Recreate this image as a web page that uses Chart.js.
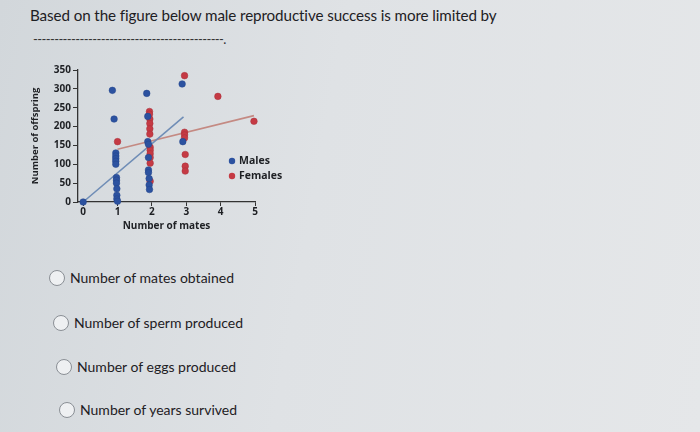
<!DOCTYPE html>
<html>
<head>
<meta charset="utf-8">
<script src="https://cdn.jsdelivr.net/npm/chart.js@4.4.0/dist/chart.umd.min.js"></script>
<style>
  body { margin: 0; }
  #page {
    position: relative; width: 700px; height: 432px; overflow: hidden;
    background: linear-gradient(100deg, #d2d7db 0%, #dfe2e5 45%, #e5e7e9 100%);
    font-family: Lato, sans-serif; color: #1e2024;
  }
  .q { position: absolute; left: 30px; top: 6px; font-size: 15.2px; letter-spacing: -0.1px; }
  .blank { position: absolute; left: 33px; top: 31px; font-size: 13px; letter-spacing: -0.6px; color: #333; }
  #box { position: absolute; left: 30px; top: 55px; width: 260px; height: 190px; }
  .opt { position: absolute; font-size: 14px; }
  .opt span.r {
    display: inline-block; width: 14px; height: 14px; border-radius: 50%;
    border: 1px solid #8a8f95; background: #eef0f2; vertical-align: -3px; margin-right: 5px;
  }
</style>
</head>
<body>
<div id="page">
  <div class="q">Based on the figure below male reproductive success is more limited by</div>
  <div class="blank">---------------------------------------------.</div>
  <div id="box"><canvas id="chart1"></canvas></div>
  <div class="opt" style="left:49px; top:269px"><span class="r"></span>Number of mates obtained</div>
  <div class="opt" style="left:53px; top:314px"><span class="r"></span>Number of sperm produced</div>
  <div class="opt" style="left:56px; top:358px"><span class="r"></span>Number of eggs produced</div>
  <div class="opt" style="left:59px; top:401px"><span class="r"></span>Number of years survived</div>
</div>
<script>
const xTicks = [0, 1, 2, 3, 4, 5]
const yTicks = [0, 50, 100, 150, 200, 250, 300, 350]

const maleX = [0, 0.85, 0.9, 0.95, 0.95, 0.95, 0.95, 0.95, 0.97, 0.97, 0.97, 0.98, 0.98, 0.98, 1.0,
               1.85, 1.88, 1.88, 1.9, 1.9, 1.9, 1.9, 1.92, 1.92, 1.93, 2.88, 2.9]
const maleY = [0, 296, 220, 130, 122, 115, 108, 100, 65, 58, 50, 35, 18, 8, 2,
               288, 227, 160, 153, 118, 85, 78, 62, 45, 33, 313, 160]

const femaleX = [1.0, 1.93, 1.93, 1.94, 1.94, 1.94, 1.94, 1.95, 1.95, 1.95, 1.95, 1.95, 1.95,
                 2.95, 2.95, 2.95, 2.95, 2.97, 2.97, 2.97, 3.92, 4.97]
const femaleY = [160, 240, 233, 220, 208, 194, 180, 145, 137, 128, 118, 103, 55,
                 335, 185, 178, 170, 126, 95, 82, 280, 214]

const maleFitX = [0, 2.92]
const maleFitY = [0, 226]
const femaleFitX = [1, 4.97]
const femaleFitY = [140, 229]

const blue = '#2c52a0'
const red = '#c53a44'

const toPoints = (xs, ys) => xs.map((x, i) => ({ x, y: ys[i] }))

const tickFont = { family: 'Open Sans', size: 10, weight: 'bold' }

const legendPlugin = {
    id: 'innerLegend',
    afterDraw(chart) {
        const ctx = chart.ctx
        const area = chart.chartArea
        const items = chart.data.datasets.filter(d => d.type === 'scatter')
        ctx.save()
        ctx.font = 'bold 10.5px "Open Sans"'
        ctx.textBaseline = 'middle'
        items.forEach((d, i) => {
            const x = area.right - 23
            const y = area.top + 91 + i * 15
            ctx.fillStyle = d.backgroundColor
            ctx.beginPath()
            ctx.arc(x, y, 3.2, 0, Math.PI * 2)
            ctx.fill()
            ctx.fillStyle = '#1e2024'
            ctx.fillText(d.label, x + 7, y)
        })
        ctx.restore()
    }
}

const data = {
    datasets: [
        {
            type: 'line', label: 'male fit', data: toPoints(maleFitX, maleFitY),
            borderColor: '#6f8db6', borderWidth: 1.6, pointRadius: 0, order: 2
        },
        {
            type: 'line', label: 'female fit', data: toPoints(femaleFitX, femaleFitY),
            borderColor: '#c48a83', borderWidth: 1.6, pointRadius: 0, order: 2
        },
        {
            type: 'scatter', label: 'Males', data: toPoints(maleX, maleY),
            backgroundColor: blue, borderColor: '#23448a', borderWidth: 0.5, pointRadius: 3.3, order: 1
        },
        {
            type: 'scatter', label: 'Females', data: toPoints(femaleX, femaleY),
            backgroundColor: red, borderColor: '#a8303a', borderWidth: 0.5, pointRadius: 3.3, order: 1
        }
    ]
}

const options = {
    responsive: true,
    maintainAspectRatio: false,
    animation: false,
    clip: false,
    layout: { padding: { top: 15, right: 35, left: 0, bottom: 9 } },
    plugins: { legend: { display: false }, tooltip: { enabled: false } },
    scales: {
        x: {
            type: 'linear', min: -0.15, max: 5,
            afterBuildTicks: axis => { axis.ticks = xTicks.map(v => ({ value: v })) },
            afterFit: axis => { axis.height = 34 },
            grid: { drawOnChartArea: false, tickLength: 4, color: '#333', lineWidth: 1 },
            border: { color: '#333', width: 1.3 },
            ticks: { color: '#1e2024', font: tickFont, padding: 0, maxRotation: 0 },
            title: { display: true, text: 'Number of mates', color: '#1e2024', font: { family: 'Open Sans', size: 10, weight: 'bold' }, padding: { top: 0 } }
        },
        y: {
            min: 0, max: 350,
            afterBuildTicks: axis => { axis.ticks = yTicks.map(v => ({ value: v })) },
            afterFit: axis => { axis.width = 48 },
            grid: { drawOnChartArea: false, tickLength: 5, color: '#333', lineWidth: 1 },
            border: { color: '#333', width: 1.3 },
            ticks: { color: '#1e2024', font: tickFont, padding: 2 },
            title: { display: true, text: 'Number of offspring', color: '#1e2024', font: { family: 'Open Sans', size: 9.5, weight: 'bold' }, padding: 0 }
        }
    }
}

new Chart('chart1', { type: 'scatter', data, options, plugins: [legendPlugin] })
</script>
</body>
</html>
